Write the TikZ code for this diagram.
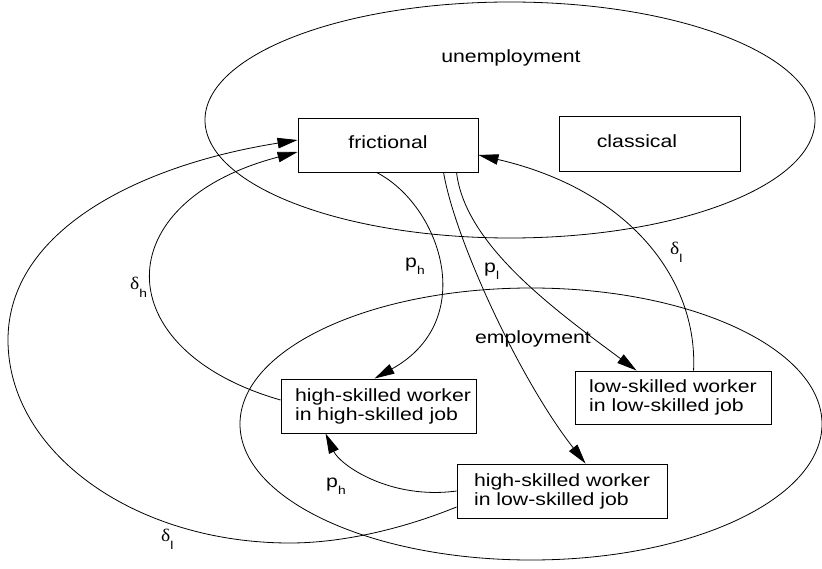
\documentclass[tikz,border=0pt]{standalone}
\usepackage{fontspec}
\setmainfont{Liberation Sans}[FakeStretch=1.2]
\newfontfamily\grk{Liberation Serif}[FakeStretch=1.1]
\usetikzlibrary{arrows.meta}
\newcommand{\lsub}[1]{\raisebox{-7pt}{\fontsize{11.5}{12}\selectfont #1}}
\newcommand{\dsub}[1]{\raisebox{-8pt}{\fontsize{11.5}{12}\selectfont #1}}
\newcommand{\dlt}{{\grk δ}}
\begin{document}
\begin{tikzpicture}[x=1pt,y=-1pt,
  every node/.style={font=\fontsize{17.7}{19}\selectfont},
  statebox/.style={draw, line width=0.9pt, inner sep=0pt},
  conn/.style={line width=0.8pt, -{Triangle[length=20pt,width=10.5pt]}},
  lab/.style={anchor=base west, inner sep=0pt},
  setline/.style={draw, line width=0.8pt}
]
\useasboundingbox (0,0) rectangle (822,569);
\fill[white] (0,0) rectangle (822,569);

% sets
\draw[setline] (510,120) ellipse [x radius=305pt, y radius=118pt];
\draw[setline] (531,424) ellipse [x radius=291pt, y radius=136pt];
\node[anchor=base, inner sep=0pt] (unemp) at (511,63) {unemployment};
\node[anchor=base, inner sep=0pt] (emp) at (533,343) {employment};

% states
\node[statebox, minimum width=180pt, minimum height=54pt, text height=12pt, text depth=4pt] (fr) at (388,145) {frictional};
\node[statebox, minimum width=181pt, minimum height=55pt, text height=12pt, text depth=4pt] (cl) at (649.5,144) {\hspace*{-25pt}classical};
\node[statebox, align=left, minimum width=195pt, minimum height=54pt] (hh) at (378.5,406) {\hspace*{9pt}high-skilled worker\\\hspace*{9pt}in high-skilled job};
\node[statebox, align=left, minimum width=196pt, minimum height=53pt] (ll) at (673,397.5) {low-skilled worker\\in low-skilled job};
\node[statebox, align=left, minimum width=210pt, minimum height=54pt] (hl) at (562,491) {high-skilled worker\\in low-skilled job};

% transitions
\draw[conn] ([xshift=79pt]fr.south west) .. controls (440,205) and (480,320) .. ([xshift=94pt]hh.north west);
\draw[conn] ([xshift=146pt]fr.south west) .. controls (455,240) and (520,380) .. ([xshift=129pt]hl.north west);
\draw[conn] ([xshift=159pt]fr.south west) .. controls (465,245) and (555,310) .. ([xshift=62pt]ll.north west);
\draw[conn] ([xshift=119pt]ll.north west) .. controls (698,280) and (630,190) .. ([yshift=-10pt]fr.east);
\draw[conn] ([yshift=6pt]hh.west) .. controls (106,350) and (106,202) .. ([yshift=-7pt]fr.west);
\draw[conn] ([yshift=-16pt]hl.west) .. controls (400,530) and (340,543) .. (290,543)
  .. controls (134,543) and (8,452) .. (8,340)
  .. controls (8,230) and (140,165) .. ([yshift=5pt]fr.west);
\draw[conn] (hl.west) .. controls (390,500) and (340,465) .. ([xshift=45pt]hh.south west);

% rate labels
\node[lab] (lph1) at (405,268) {p\lsub{h}};
\node[lab] (lpl) at (484,273) {p\lsub{l}};
\node[lab] (ldl1) at (670,255) {\dlt\dsub{l}};
\node[lab] (ldh) at (130,290) {\dlt\dsub{h}};
\node[lab] (ldl2) at (161,541) {\dlt\dsub{l}};
\node[lab] (lph2) at (326,487) {p\lsub{h}};
\end{tikzpicture}
\end{document}
